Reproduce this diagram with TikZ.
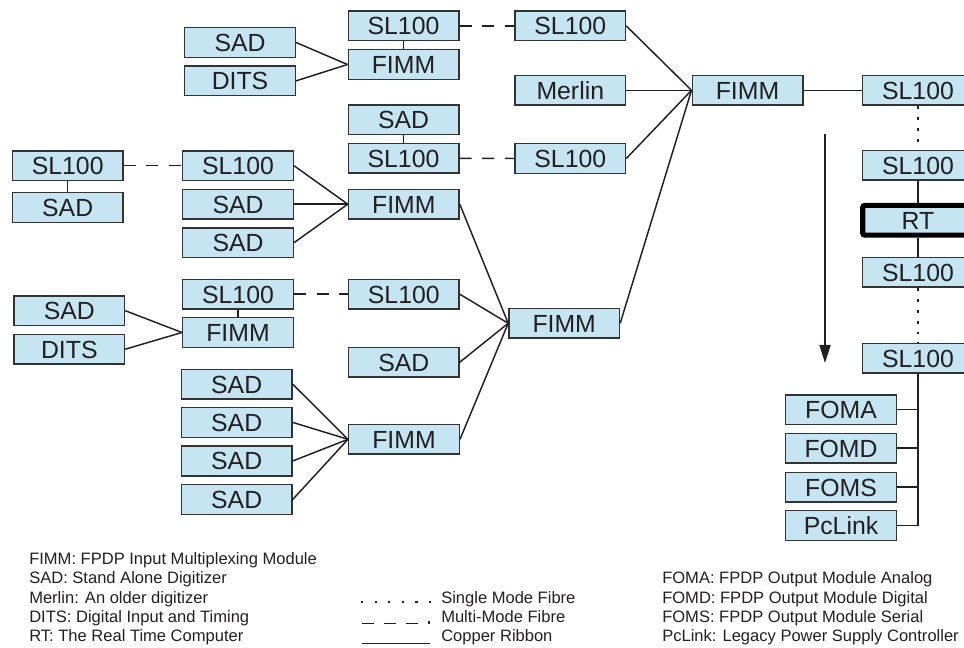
\documentclass[tikz,border=0pt]{standalone}
\usepackage{fontspec}
\setmainfont{Liberation Sans}
\usetikzlibrary{arrows.meta}
\definecolor{boxfill}{RGB}{197,229,242}
\definecolor{ink}{RGB}{35,31,32}
\definecolor{edgecol}{RGB}{51,51,51}
\begin{document}
\begin{tikzpicture}[x=0.75pt,y=-0.75pt,
  modbox/.style={draw=edgecol, fill=boxfill, line width=1.1pt, minimum width=82.9pt, minimum height=22.3pt, inner sep=0pt, text=ink, font=\fontsize{18.6}{20}\selectfont, text height=13.3pt, text depth=0pt},
  rtbox/.style={modbox, draw=black, line width=3.8pt, rounded corners=1.5pt},
  copper/.style={draw=ink, line width=1.1pt},
  mmf/.style={draw=ink, line width=1.1pt, dash pattern=on 9pt off 8pt},
  smf/.style={draw=ink, line width=1.3pt, dash pattern=on 2.2pt off 6pt},
  legend/.style={anchor=base west, inner sep=0pt, text=ink, font=\fontsize{12.4}{15}\selectfont}]
\useasboundingbox (0,0) rectangle (964,648);
\clip (0,0) rectangle (964,648);

% ---- boxes ----
\node[modbox] (sadA) at (240,42.5) {SAD};
\node[modbox] (ditsA) at (240,80.9) {DITS};
\node[modbox] (slA) at (403.5,25.9) {SL100};
\node[modbox] (fimmA) at (403.5,64.5) {FIMM};
\node[modbox] (slB) at (570.3,25.9) {SL100};
\node[modbox] (merlin) at (570.3,90.3) {Merlin};
\node[modbox] (sadB) at (403.5,119.7) {SAD};
\node[modbox] (slC) at (403.5,158.3) {SL100};
\node[modbox] (slD) at (570.3,158.5) {SL100};
\node[modbox] (slE) at (67.7,165.7) {SL100};
\node[modbox] (sadE) at (67.7,207.5) {SAD};
\node[modbox] (slF) at (238,165.7) {SL100};
\node[modbox] (sadF1) at (238,204.2) {SAD};
\node[modbox] (sadF2) at (238,242.7) {SAD};
\node[modbox] (fimmF) at (403.8,204.2) {FIMM};
\node[modbox] (sadG) at (69.3,310.7) {SAD};
\node[modbox] (ditsG) at (69.3,349.2) {DITS};
\node[modbox] (slG) at (238,294.2) {SL100};
\node[modbox] (fimmG) at (238,332.5) {FIMM};
\node[modbox] (slH) at (403.8,294.2) {SL100};
\node[modbox] (sadH) at (403.8,362.2) {SAD};
\node[modbox] (sadI1) at (236.7,384.2) {SAD};
\node[modbox] (sadI2) at (236.7,422.4) {SAD};
\node[modbox] (sadI3) at (236.7,461) {SAD};
\node[modbox] (sadI4) at (236.7,499.5) {SAD};
\node[modbox] (fimmI) at (404,439.3) {FIMM};
\node[modbox] (fimmJ) at (564.2,323.3) {FIMM};
\node[modbox] (fimmK) at (747.5,90.3) {FIMM};
\node[modbox] (r1) at (918,90.3) {SL100};
\node[modbox] (r2) at (918,165.2) {SL100};
\node[rtbox] (rt) at (918,220.3) {RT};
\node[modbox] (r3) at (918,272.2) {SL100};
\node[modbox] (r4) at (918,358.3) {SL100};
\node[modbox] (foma) at (841,409.7) {FOMA};
\node[modbox] (fomd) at (841,448.2) {FOMD};
\node[modbox] (foms) at (841,487.2) {FOMS};
\node[modbox] (pclink) at (841,525.5) {PcLink};

% ---- connectors ----
\draw[copper] (sadA.east) -- (fimmA.west);
\draw[copper] (ditsA.east) -- (fimmA.west);
\draw[copper] (slA.south) -- (fimmA.north);
\draw[mmf] (slA.east) -- (slB.west);
\draw[copper] (slB.east) -- (fimmK.west);
\draw[copper] (merlin.east) -- (fimmK.west);
\draw[copper] (slD.east) -- (fimmK.west);
\draw[copper] (fimmJ.east) -- (fimmK.west);
\draw[copper] (sadB.south) -- (slC.north);
\draw[mmf] (slC.east) -- (slD.west);
\draw[copper] (slE.south) -- (sadE.north);
\draw[mmf] (slE.east) -- (slF.west);
\draw[copper] (slF.east) -- (fimmF.west);
\draw[copper] (sadF1.east) -- (fimmF.west);
\draw[copper] (sadF2.east) -- (fimmF.west);
\draw[copper] (sadG.east) -- (fimmG.west);
\draw[copper] (ditsG.east) -- (fimmG.west);
\draw[copper] (slG.south) -- (fimmG.north);
\draw[mmf] (slG.east) -- (slH.west);
\draw[copper] (fimmF.east) -- (fimmJ.west);
\draw[copper] (slH.east) -- (fimmJ.west);
\draw[copper] (sadH.east) -- (fimmJ.west);
\draw[copper] (fimmI.east) -- (fimmJ.west);
\draw[copper] (sadI1.east) -- (fimmI.west);
\draw[copper] (sadI2.east) -- (fimmI.west);
\draw[copper] (sadI3.east) -- (fimmI.west);
\draw[copper] (sadI4.east) -- (fimmI.west);
\draw[copper] (fimmK.east) -- (r1.west);
\draw[smf] (r1.south) -- (r2.north);
\draw[copper] (r2.south) -- (rt.north);
\draw[copper] (rt.south) -- (r3.north);
\draw[smf] (r3.south) -- (r4.north);
\coordinate (busend) at (r4.south |- pclink.east);
\draw[copper] (r4.south) -- (busend);
\draw[copper] (foma.east) -- (foma.east -| r4.south);
\draw[copper] (fomd.east) -- (fomd.east -| r4.south);
\draw[copper] (foms.east) -- (foms.east -| r4.south);
\draw[copper] (pclink.east) -- (busend);

% ---- flow arrow ----
\coordinate (arrtop) at (825,134);
\coordinate (arrbot) at (825,363);
\draw[copper, -{Triangle[width=8.3pt,length=13.5pt]}] (arrtop) -- (arrbot);

% ---- legend ----
\node[legend] (lg1) at (29,564.3) {FIMM: FPDP Input Multiplexing Module};
\node[legend] (lg2) at (29,583.7) {SAD: Stand Alone Digitizer};
\node[legend] (lg3) at (29,603.1) {Merlin: An older digitizer};
\node[legend] (lg4) at (29,622.5) {DITS: Digital Input and Timing};
\node[legend] (lg5) at (29,641.9) {RT: The Real Time Computer};

\foreach \i in {0,...,5} \fill[ink] (361+\i*13.6,600.5) rectangle ++(2.2,2.2);
\node[legend] (lg6) at (441,603.1) {Single Mode Fibre};
\foreach \i in {0,1,2} \draw[ink, line width=1.1pt] (362+\i*22,623.5) -- ++(12,0);
\fill[ink] (428,621.3) rectangle ++(2.2,2.2);
\node[legend] (lg7) at (441,622.5) {Multi-Mode Fibre};
\draw[ink, line width=1.1pt] (362,643.5) -- (430,643.5);
\node[legend] (lg8) at (441,641.9) {Copper Ribbon};

\node[legend] (lg9) at (662,583.7) {FOMA: FPDP Output Module Analog};
\node[legend] (lg10) at (662,603.1) {FOMD: FPDP Output Module Digital};
\node[legend] (lg11) at (662,622.5) {FOMS: FPDP Output Module Serial};
\node[legend] (lg12) at (662,641.9) {PcLink: Legacy Power Supply Controller};
\end{tikzpicture}
\end{document}
